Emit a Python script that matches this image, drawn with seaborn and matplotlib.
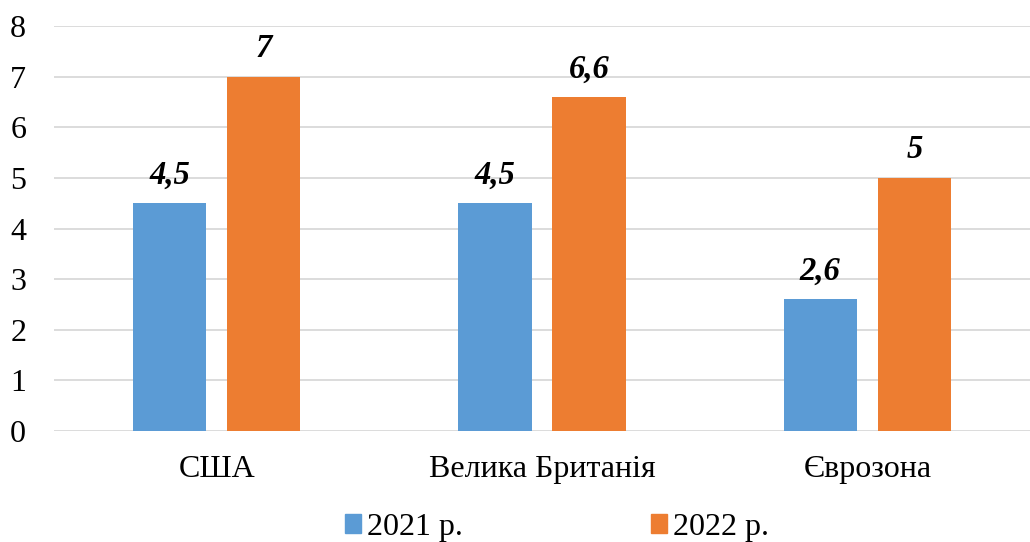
import matplotlib
matplotlib.use("Agg")
import matplotlib.pyplot as plt
import seaborn as sns
import pandas as pd

# data
categories = ["США", "Велика Британія", "Єврозона"]
years = ["2021 р.", "2022 р."]
values_2021 = [4.5, 4.5, 2.6]
values_2022 = [7, 6.6, 5]
colors = ["#5B9BD5", "#ED7D31"]

df = pd.DataFrame({
    "country": categories * 2,
    "year": [years[0]] * 3 + [years[1]] * 3,
    "value": values_2021 + values_2022,
})

sns.set_style("white")
plt.rcParams["font.family"] = ["Liberation Serif", "DejaVu Serif"]
plt.rcParams["text.color"] = "black"
plt.rcParams["xtick.color"] = "black"
plt.rcParams["ytick.color"] = "black"

fig = plt.figure(figsize=(10.3, 5.42), dpi=100)
ax = fig.add_axes([0.0524, 0.2048, 0.9476, 0.7472])

sns.barplot(data=df, x="country", y="value", hue="year", palette=colors,
            width=0.578, gap=0.223, ax=ax, legend=False, saturation=1,
            linewidth=0)

ax.set_ylim(0, 8)
ax.set_xlim(-0.5, 2.5)
ax.set_yticks(range(0, 9))
ax.yaxis.grid(True, color="#D9D9D9", linewidth=1.3)
ax.set_axisbelow(True)
for s in ax.spines.values():
    s.set_visible(False)
ax.tick_params(axis="both", length=0, labelsize=23, labelcolor="black")
ax.tick_params(axis="y", pad=20)
ax.tick_params(axis="x", pad=17)
ax.set_xlabel("")
ax.set_ylabel("")

for cont in ax.containers:
    labels = [f"{v:g}".replace(".", ",") for v in cont.datavalues]
    ax.bar_label(cont, labels=labels, padding=9, fontsize=23.5,
                 fontweight="bold", fontstyle="italic", color="black")

handles = [plt.Rectangle((0, 0), 1, 1, color=c) for c in colors]
fig.legend(handles, years, loc="center", bbox_to_anchor=(0.541, 0.027),
           ncol=2, frameon=False, fontsize=23, handlelength=0.5,
           handleheight=0.5, handletextpad=0.19, columnspacing=5.9)

fig.savefig("out.png", dpi=100)
